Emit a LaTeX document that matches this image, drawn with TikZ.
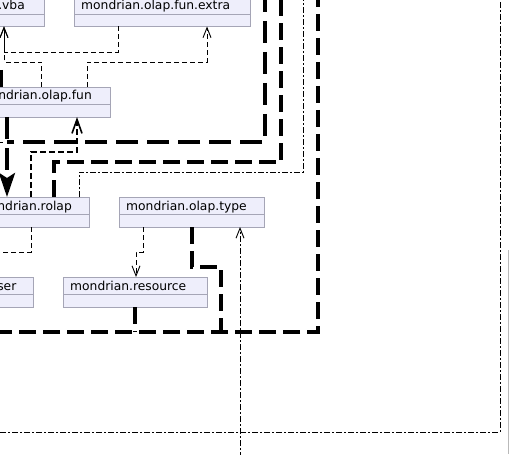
\documentclass[tikz,border=0pt]{standalone}
\usepackage{fontspec}
\setmainfont{DejaVu Sans}
\usetikzlibrary{arrows.meta}
\definecolor{pkgfill}{RGB}{238,238,251}
\definecolor{pkgedge}{RGB}{165,165,182}
\tikzset{
  pkg box/.style={rectangle, draw=pkgedge, fill=pkgfill, line width=0.9pt, minimum height=30pt, inner sep=0pt, outer sep=0pt},
  pkg rule/.style={draw=pkgedge, line width=0.9pt},
  pkg name/.style={inner sep=0pt},
  dep line/.style={line width=0.9pt, dash pattern=on 5pt off 3pt},
  dep/.style={dep line, -{Straight Barb[length=10pt,width=8pt]}},
  dep strong/.style={line width=1.6pt, dash pattern=on 6pt off 3pt, -{Straight Barb[length=14pt,width=10pt]}},
  dot line/.style={line width=0.9pt, dash pattern=on 6pt off 2pt on 2pt off 2pt},
  heavy a/.style={line width=3.6pt, dash pattern=on 22pt off 9pt},
  heavy b/.style={line width=3.4pt, dash pattern=on 17pt off 7pt},
  page edge/.style={draw={rgb,255:red,185;green,185;blue,185}, line width=1.2pt},
}
\begin{document}
\begin{tikzpicture}[x=1pt, y=-1pt, every node/.style={font=\fontsize{12.3}{14}\selectfont}]
  \useasboundingbox (0,0) rectangle (510,454);
  \clip (0,0) rectangle (510,454);
  % packages
  \node[pkg box, minimum width=170pt, anchor=north east] (vba) at (44,-3.5) {};
  \node[pkg box, minimum width=176pt, anchor=north west] (extra) at (74,-3.5) {};
  \node[pkg box, minimum width=138pt, anchor=north east] (fun) at (110,87) {};
  \node[pkg box, minimum width=118pt, anchor=north east] (rolap) at (89,197) {};
  \node[pkg box, minimum width=145pt, anchor=north west] (type) at (119,197) {};
  \node[pkg box, minimum width=126pt, anchor=north east] (parser) at (33,277) {};
  \node[pkg box, minimum width=144pt, anchor=north west] (resource) at (63,277) {};
  \foreach \p in {vba,extra,fun,rolap,type,parser,resource}
    \draw[pkg rule] ([yshift=-17.7pt]\p.north west) -- ([yshift=-17.7pt]\p.north east);
  \node[pkg name, anchor=base east] (vba name) at ([xshift=-19pt, yshift=-13pt]vba.north east) {mondrian.olap.fun.vba};
  \node[pkg name, anchor=base west] (extra name) at ([xshift=7pt, yshift=-13pt]extra.north west) {mondrian.olap.fun.extra};
  \node[pkg name, anchor=base east] (fun name) at ([xshift=-18pt, yshift=-13pt]fun.north east) {mondrian.olap.fun};
  \node[pkg name, anchor=base east] (rolap name) at ([xshift=-17pt, yshift=-13pt]rolap.north east) {mondrian.rolap};
  \node[pkg name, anchor=base west] (type name) at ([xshift=7pt, yshift=-13pt]type.north west) {mondrian.olap.type};
  \node[pkg name, anchor=base east] (parser name) at ([xshift=-16.5pt, yshift=-13pt]parser.north east) {mondrian.parser};
  \node[pkg name, anchor=base west] (resource name) at ([xshift=7pt, yshift=-13pt]resource.north west) {mondrian.resource};
  % ends outside the frame
  \coordinate (fun feed) at (1,70);
  \coordinate (rolap join) at (7,142);
  \coordinate (in265) at (265,-10);
  \coordinate (in281) at (281,-10);
  \coordinate (in303) at (303,-10);
  \coordinate (in318) at (318,-10);
  \coordinate (in500) at (500,-10);
  \coordinate (out240) at (240,470);
  \coordinate (west142) at (-10,142);
  \coordinate (west252) at (-10,252);
  \coordinate (west332) at (-10,332);
  \coordinate (west432) at (-10,432);
  % dependencies
  \draw[dep] (extra.south -| 118,0) |- (4,52) -- (vba.south -| 4,0);
  \draw[dep] (fun.north -| 41.5,0) |- (4,62) -- (vba.south -| 4,0);
  \draw[dep] (fun.north -| 87,0) |- (207,62) -- (extra.south -| 207,0);
  \draw[heavy a] (fun feed) -- (fun.north -| fun feed);
  \draw[heavy a] (in265) |- (rolap join);
  \draw[heavy a, -{Stealth[length=24pt,width=16pt,inset=5pt]}] (fun.south -| rolap join) -- (rolap.north -| rolap join);
  \draw[line width=0.9pt] (west142) -- (3,142);
  \draw[dep strong] (rolap.north -| 31,0) |- (77,152) -- (fun.south -| 77,0);
  \draw[heavy b] (rolap.north -| 54,0) |- (281,162) -- (in281);
  \draw[dot line] (rolap.north -| 79,0) |- (303,172) -- (in303);
  \draw[heavy b] (in318) |- (west332);
  \draw[heavy b] (type.south -| 192,0) |- (221,267) -- (221,332);
  \draw[heavy b] (resource.south -| 135,0) -- (135,332);
  \draw[dep] (type.south -| 143,0) |- (136,252) -- (resource.north -| 136,0);
  \draw[dep line] (rolap.south -| 31,0) |- (west252);
  \draw[dot line] (in500) |- (west432);
  \draw[dot line, -{Straight Barb[length=10pt,width=8pt]}] (out240) -- (type.south -| out240);
  \draw[page edge] (508.5,250) -- (508.5,454);
\end{tikzpicture}
\end{document}
